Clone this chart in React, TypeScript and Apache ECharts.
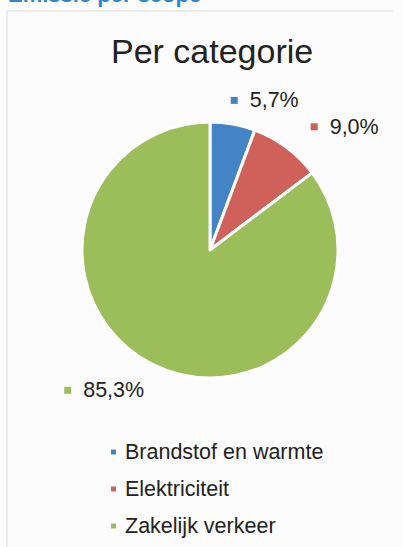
import React, { useEffect, useRef } from "react";
import * as echarts from "echarts";

const categories = ["Brandstof en warmte", "Elektriciteit", "Zakelijk verkeer"];
const values = [5.7, 9.0, 85.3];
const colors = ["#4384c6", "#cf605a", "#9bbd5a"];
const titleText = "Per categorie";
const headerText = "Emissie per scope";
// label nudges (layout only)
const labelShift = [
  [-17, -2],
  [0, -3],
  [12, 6],
];

export default function App() {
  const ref = useRef<HTMLDivElement>(null);
  useEffect(() => {
    if (!ref.current) return;
    const chart = echarts.init(ref.current, null, { renderer: "svg" });
    const font = "Liberation Sans, Arial, sans-serif";
    const rich: any = { v: { fontSize: 21.5, color: "#222", fontFamily: font, padding: [0, 0, 0, 12] } };
    colors.forEach((c, i) => {
      rich["m" + i] = { width: 7, height: 7, backgroundColor: c };
    });
    chart.setOption({
      animation: false,
      backgroundColor: "#fcfcfc",
      title: {
        text: titleText,
        left: 106,
        top: 29,
        textStyle: { fontSize: 34, fontWeight: "normal", color: "#222", fontFamily: font },
      },
      graphic: [
        {
          type: "polyline",
          shape: { points: [[7, 560], [7, 11], [393, 11]] },
          style: { fill: "none", stroke: "#dcdcdc", lineWidth: 1 },
          silent: true,
        },
        {
          type: "text",
          left: 8,
          top: -17,
          style: { text: headerText, fontSize: 22, fontWeight: "bold", fill: "#2f86d3", fontFamily: font },
          silent: true,
        },
      ],
      legend: {
        orient: "vertical",
        left: 104,
        top: 436,
        icon: "rect",
        itemWidth: 7,
        itemHeight: 7,
        itemGap: 15,
        textStyle: { fontSize: 21.5, color: "#222", fontFamily: font, padding: [0, 0, 0, 3] },
        data: categories,
      },
      series: [
        {
          type: "pie",
          center: [210, 250],
          radius: 128,
          startAngle: 90,
          clockwise: true,
          avoidLabelOverlap: false,
          itemStyle: { borderColor: "#ffffff", borderWidth: 3 },
          label: {
            show: true,
            position: "outside",
            rich,
            formatter: (p: any) => `{m${p.dataIndex}|}{v|${p.value.toFixed(1).replace(".", ",")}%}`,
          },
          labelLine: { show: false, length: 22, length2: 6 },
          labelLayout: (p: any) => ({ dx: labelShift[p.dataIndex][0], dy: labelShift[p.dataIndex][1] }),
          data: categories.map((name, i) => ({
            name,
            value: values[i],
            itemStyle: { color: colors[i] },
          })),
        },
      ],
    });
    return () => chart.dispose();
  }, []);
  return (
    <div
      ref={ref}
      style={{ position: "fixed", left: 0, top: 0, width: 403, height: 547 }}
    />
  );
}
